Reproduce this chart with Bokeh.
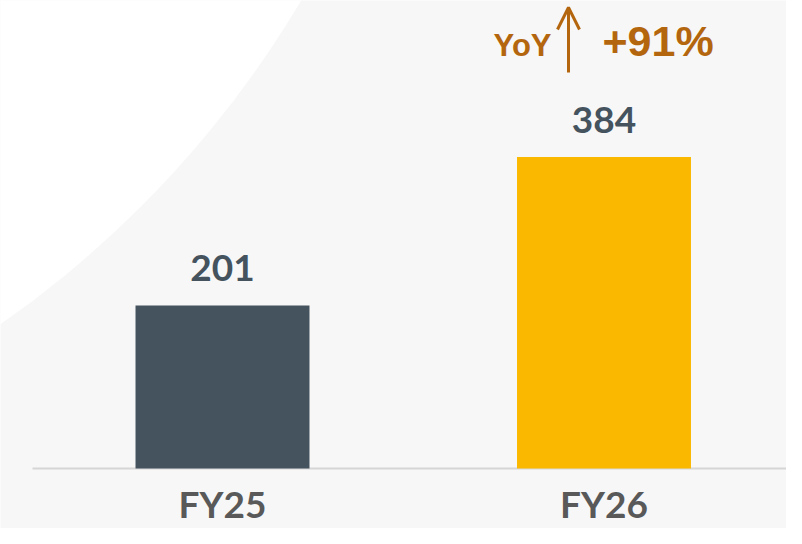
from bokeh.plotting import figure
from bokeh.models import Range1d, Arrow, OpenHead, ColumnDataSource
from bokeh.core.properties import value
from bokeh.embed import file_html
from bokeh.resources import INLINE

# ---- data ----
categories = ["FY25", "FY26"]
values = [201, 384]
bar_colors = ["#44535E", "#FBB800"]

yoy = round((values[1] / values[0] - 1) * 100)
yoy_label = f"+{yoy}%"

# ---- layout helpers (pixels <-> data) ----
W, H = 786, 528
PX_X = 381.5          # pixels per category step
PX_Y = 0.811          # pixels per value unit
BASE_PX = 468         # canvas y of the zero line
X0 = 0.5 - 222 / PX_X
x_range = Range1d(X0, X0 + W / PX_X)
y_range = Range1d(-(H - BASE_PX) / PX_Y, BASE_PX / PX_Y)

def cx(px):
    return X0 + px / PX_X

def cy(py):
    return (BASE_PX - py) / PX_Y

xs = [i + 0.5 for i in range(len(categories))]

p = figure(width=W, height=H, x_range=x_range, y_range=y_range,
           output_backend="svg", toolbar_location=None,
           min_border=0, min_border_left=0, min_border_right=0,
           min_border_top=0, min_border_bottom=0)
p.background_fill_color = "#F7F7F7"
p.border_fill_color = "#F7F7F7"
p.outline_line_color = None
p.grid.visible = False
p.axis.visible = False

# decorative white arc in the upper-left
p.circle(x=[cx(-601)], y=[cy(-536)], radius=1049, radius_units="screen",
         fill_color="white", line_color=None)

# baseline
p.segment(x0=[cx(32)], x1=[x_range.end], y0=[0], y1=[0],
          line_color="#D6D6D6", line_width=2)

src = ColumnDataSource(dict(x=xs, top=values, color=bar_colors,
                            cat=categories, lab=[str(v) for v in values]))

p.vbar(x="x", top="top", bottom=0, width=0.456, fill_color="color",
       line_color=None, source=src)

# value labels
p.text(x="x", y="top", text="lab", source=src, text_align="center",
       text_baseline="alphabetic", y_offset=-37,
       text_font=value("Lato"), text_font_style="bold",
       text_font_size="37px", text_color="#44535E")

# category labels
p.text(x="x", y=0, text="cat", source=src, text_align="center",
       text_baseline="alphabetic", y_offset=35,
       text_font=value("Lato"), text_font_style="bold",
       text_font_size="37px", text_color="#595959")

# YoY annotation
brown = "#B3660E"
p.text(x=[xs[1]], y=[values[1]], text=["YoY"], x_offset=-110.5, y_offset=-112,
       text_align="left", text_baseline="alphabetic",
       text_font=value("Liberation Sans"), text_font_style="bold",
       text_font_size="31px", text_color=brown)
p.text(x=[xs[1]], y=[values[1]], text=[yoy_label], x_offset=-1.5, y_offset=-116,
       text_align="left", text_baseline="alphabetic",
       text_font=value("Liberation Sans"), text_font_style="bold",
       text_font_size="43px", text_color=brown)
p.add_layout(Arrow(end=OpenHead(size=22, line_color=brown, line_width=3),
                   x_start=cx(568), y_start=cy(72), x_end=cx(568), y_end=cy(7),
                   line_color=brown, line_width=3))

open("out.html", "w").write(file_html(p, INLINE))
